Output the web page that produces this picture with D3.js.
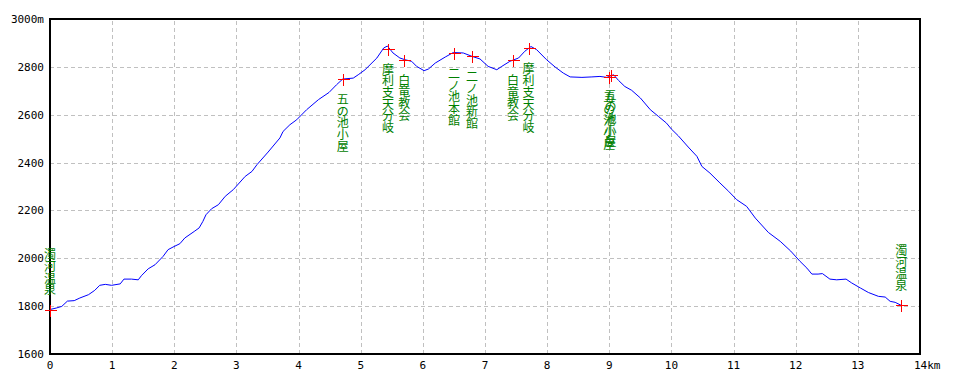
<!DOCTYPE html>
<html><head><meta charset="utf-8">
<script src="https://cdn.jsdelivr.net/npm/d3@7"></script>
<style>
body{margin:0;background:#fff;}
svg{display:block;}
</style></head>
<body>
<svg id="c" width="960" height="384"></svg>
<script>
const profileKm = [
 0, 0.10, 0.19, 0.28, 0.39, 0.48, 0.62, 0.72, 0.80, 0.89,
 0.99, 1.13, 1.19, 1.31, 1.42, 1.47, 1.58, 1.69, 1.82, 1.90,
 1.98, 2.09, 2.17, 2.32, 2.40, 2.46, 2.51, 2.60, 2.71, 2.82,
 2.95, 3.14, 3.25, 3.33, 3.51, 3.70, 3.75, 3.86, 3.97, 4.13,
 4.32, 4.49, 4.61, 4.71, 4.88, 4.96, 5.07, 5.26, 5.37, 5.43,
 5.52, 5.63, 5.71, 5.82, 5.90, 6.02, 6.09, 6.20, 6.36, 6.49,
 6.65, 6.79, 6.92, 7.05, 7.19, 7.27, 7.40, 7.54, 7.64, 7.74,
 7.83, 7.99, 8.13, 8.26, 8.37, 8.56, 8.72, 8.85, 8.96, 9.07,
 9.15, 9.25, 9.36, 9.50, 9.66, 9.79, 9.92, 10.00, 10.11, 10.27,
 10.41, 10.49, 10.62, 10.78, 10.92, 11.05, 11.21, 11.35, 11.56, 11.75,
 11.92, 12.07, 12.18, 12.26, 12.36, 12.43, 12.55, 12.66, 12.81, 12.90,
 13.04, 13.17, 13.33, 13.44, 13.52, 13.60, 13.70
];
const profileElev = [
 1786, 1792, 1799, 1821, 1823, 1834, 1848, 1866, 1887, 1891,
 1887, 1893, 1913, 1913, 1910, 1927, 1956, 1973, 2008, 2036,
 2047, 2061, 2085, 2112, 2127, 2154, 2182, 2207, 2224, 2259,
 2287, 2342, 2363, 2391, 2444, 2503, 2530, 2558, 2579, 2621,
 2663, 2693, 2725, 2749, 2753, 2767, 2788, 2837, 2879, 2887,
 2858, 2837, 2830, 2823, 2802, 2784, 2791, 2816, 2841, 2860,
 2858, 2844, 2833, 2802, 2788, 2802, 2823, 2837, 2865, 2885,
 2872, 2830, 2799, 2774, 2758, 2756, 2758, 2760, 2756, 2767,
 2743, 2718, 2702, 2670, 2621, 2593, 2565, 2540, 2512, 2465,
 2426, 2384, 2356, 2315, 2280, 2245, 2217, 2168, 2108, 2071,
 2030, 1987, 1959, 1934, 1934, 1936, 1913, 1910, 1913, 1897,
 1876, 1857, 1841, 1838, 1820, 1816, 1803
];
const wpNames = ["濁河温泉","五の池小屋","摩利支天分岐","白竜教会","二ノ池本館","二ノ池新館","白竜教会","摩利支天分岐","五の池小屋","五の池小屋","濁河温泉"];
const wpKm    = [0, 4.71, 5.44, 5.70, 6.50, 6.79, 7.45, 7.70, 9.00, 9.02, 13.70];
const wpElev  = [1785, 2749, 2876, 2830, 2858, 2844, 2829, 2877, 2758, 2768, 1803];
const wpSide  = ["above","below","below","below","below","below","below","below","below","below","above"];
const xTicks = [0,1,2,3,4,5,6,7,8,9,10,11,12,13,14];
const xTickLabels = ["0","1","2","3","4","5","6","7","8","9","10","11","12","13","14km"];
const yTicks = [1600,1800,2000,2200,2400,2600,2800,3000];
const yTickLabels = ["1600","1800","2000","2200","2400","2600","2800","3000m"];

const L=50, R=920, T=19, B=354;
const svg = d3.select("#c");
const x = d3.scaleLinear().domain([0,14]).range([L,R]);
const y = d3.scaleLinear().domain([1600,3000]).range([B,T]);

// grid
const gx = svg.append("g").attr("transform",`translate(0,${B})`)
  .call(d3.axisBottom(x).tickValues(xTicks).tickSize(-(B-T)).tickFormat(""));
gx.select(".domain").remove();
gx.selectAll("line").attr("stroke","#c0c0c0").attr("stroke-dasharray","4,3").attr("shape-rendering","crispEdges");
const gy = svg.append("g").attr("transform",`translate(${L},0)`)
  .call(d3.axisLeft(y).tickValues(yTicks).tickSize(-(R-L)).tickFormat(""));
gy.select(".domain").remove();
gy.selectAll("line").attr("stroke","#c0c0c0").attr("stroke-dasharray","4,3").attr("shape-rendering","crispEdges");

// tick labels
svg.append("g").selectAll("text").data(yTicks).join("text")
  .attr("x", L-6).attr("y", d=>y(d)).attr("dy","0.36em")
  .attr("text-anchor","end")
  .attr("font-family","DejaVu Sans Mono, monospace").attr("font-size",11)
  .attr("fill","#000").text((d,i)=>yTickLabels[i]);
svg.append("g").selectAll("text").data(xTicks).join("text")
  .attr("x", (d,i)=> i===xTicks.length-1 ? x(d)-6 : x(d)).attr("y", 369)
  .attr("text-anchor",(d,i)=> i===xTicks.length-1 ? "start" : "middle")
  .attr("font-family","DejaVu Sans Mono, monospace").attr("font-size",11)
  .attr("fill","#000").text((d,i)=>xTickLabels[i]);

// profile line
const pts = profileKm.map((k,i)=>[k, profileElev[i]]);
svg.append("path").datum(pts)
  .attr("d", d3.line().x(d=>x(d[0])).y(d=>y(d[1])))
  .attr("fill","none").attr("stroke","#0000ff").attr("stroke-width",1);

// frame
svg.append("rect").attr("x",L).attr("y",T).attr("width",R-L).attr("height",B-T)
  .attr("fill","none").attr("stroke","#000").attr("stroke-width",2);

// waypoints
const wps = wpNames.map((n,i)=>({name:n, km:wpKm[i], elev:wpElev[i], side:wpSide[i]}));
const pitch = 11.7;
const wg = svg.append("g");
wps.forEach(w=>{
  const cx = x(w.km), cy = y(w.elev);
  const chars = Array.from(w.name);
  const start = w.side==="below" ? cy + 19.5 : cy - 21 - (chars.length-1)*pitch;
  const t = wg.append("text").attr("font-family","Noto Sans CJK JP").attr("font-size",12)
    .attr("fill","#008000").attr("text-anchor","middle");
  chars.forEach((c,j)=>{
    t.append("tspan").attr("x",cx).attr("y",start + j*pitch).attr("dominant-baseline","central").text(c);
  });
});
const cg = svg.append("g").attr("stroke","#ff0000").attr("stroke-width",1).attr("shape-rendering","crispEdges");
wps.forEach(w=>{
  const cx = Math.round(x(w.km))+0.5, cy = Math.round(y(w.elev))+0.5;
  cg.append("line").attr("x1",cx-6).attr("x2",cx+6).attr("y1",cy).attr("y2",cy);
  cg.append("line").attr("x1",cx).attr("x2",cx).attr("y1",cy-6).attr("y2",cy+6);
});
</script>
</body></html>
